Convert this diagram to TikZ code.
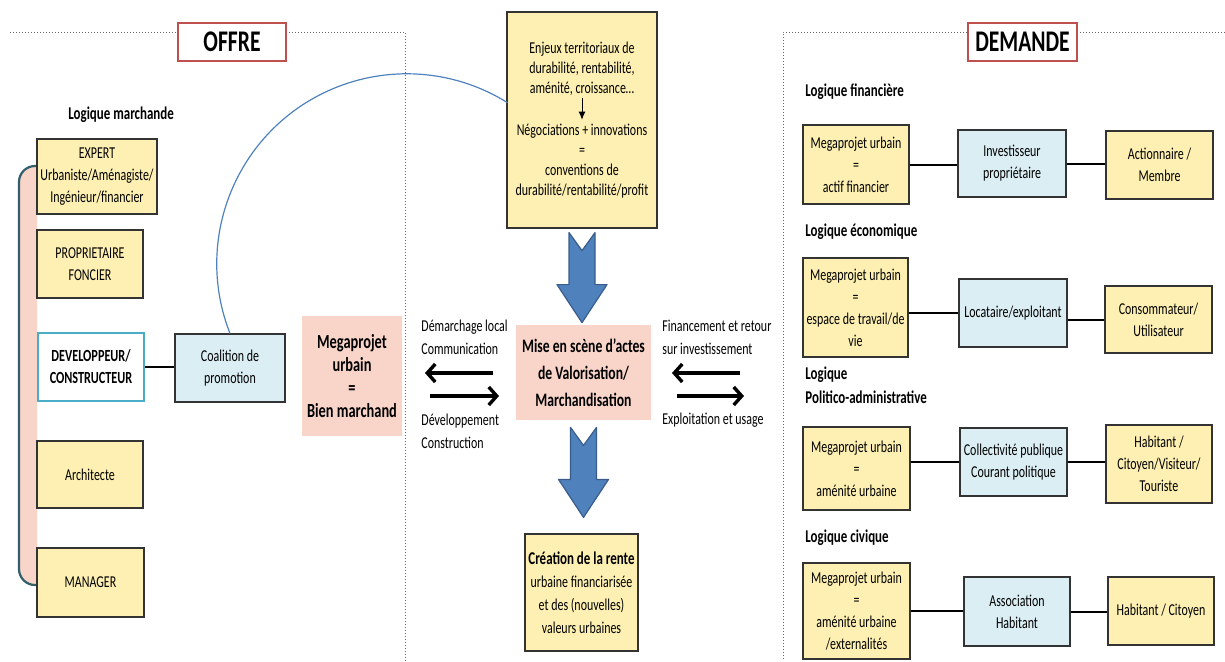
\documentclass[tikz,border=0pt]{standalone}
\usepackage{fontspec}
\setmainfont{Carlito}[FakeStretch=0.72]
\usetikzlibrary{arrows.meta,calc}
\definecolor{boxyellow}{RGB}{253,240,178}
\definecolor{boxblue}{RGB}{219,238,244}
\definecolor{boxpink}{RGB}{249,213,201}
\definecolor{titlered}{RGB}{192,80,77}
\definecolor{devteal}{RGB}{75,172,198}
\definecolor{arrowblue}{RGB}{79,129,189}
\definecolor{arrowedge}{RGB}{56,93,138}
\definecolor{bracketgray}{RGB}{49,96,106}
\newcommand{\smallfont}{\fontsize{8.3}{11}\selectfont}

\begin{document}
\begin{tikzpicture}[
    x=0.5pt, y=-0.5pt,
    box/.style={draw=black!80, line width=0.6pt, align=center, inner sep=1pt, font=\smallfont},
    ybox/.style={box, fill=boxyellow},
    bbox/.style={box, fill=boxblue},
    pbox/.style={fill=boxpink, align=center, inner sep=1pt},
    sz/.style 2 args={minimum width=#1*0.5pt, minimum height=#2*0.5pt},
    title/.style={draw=titlered, line width=1.3pt, fill=white, inner sep=0pt,
        font=\bfseries\fontsize{15}{18}\selectfont},
    logic/.style={anchor=west, align=left, inner sep=0pt, font=\bfseries\fontsize{9}{12}\selectfont},
    lbl/.style={anchor=west, align=left, inner sep=0pt, font=\fontsize{8.3}{11.5}\selectfont},
    link/.style={line width=1pt},
    flow/.style={-{Straight Barb[length=4pt,width=9pt]}, line width=1.7pt},
    frame/.style={black!60, densely dotted, line width=0.5pt},
    bigarrow/.style={fill=arrowblue, draw=arrowedge, line width=0.6pt, line join=round},
    downarr/.pic={\path[bigarrow] (-13,0) -- (0,18) -- (13,0) -- (13,52) -- (25,52)
        -- (0,90) -- (-25,52) -- (-13,52) -- cycle;}
]
    \useasboundingbox (0,0) rectangle (1225,661);

    % frames
    \draw[frame] (10,32) -- (405,32) -- (405,661);
    \draw[frame] (1225,32) -- (783,32) -- (783,661);
    \node[title, sz={108}{38}] (offre) at (232,42) {OFFRE};
    \node[title, sz={109}{38}] (demande) at (1022.5,42) {DEMANDE};

    % offre side
    \filldraw[fill=boxpink, draw=bracketgray, line width=1.1pt, rounded corners=8pt]
        (37,166) -| (19,585) -- (37,585);
    \node[logic] (lmarch) at (68,115) {Logique marchande};
    \node[ybox, sz={120}{75}] (expert) at (97,176.5) {EXPERT\\Urbaniste/Aménagiste/\\Ingénieur/financier};
    \node[ybox, sz={106}{68}] (prop) at (90,264) {PROPRIETAIRE\\FONCIER};
    \node[box, draw=devteal, line width=1.3pt, fill=white, sz={106}{68},
        font=\bfseries\fontsize{8.5}{11}\selectfont] (dev) at (91,367) {DEVELOPPEUR/\\CONSTRUCTEUR};
    \node[ybox, sz={106}{67}] (archi) at (90,474.5) {Architecte};
    \node[ybox, sz={107}{69}] (manager) at (90.5,582.5) {MANAGER};
    \node[bbox, sz={110}{68}] (coal) at (230,368) {Coalition de\\promotion};
    \node[pbox, sz={100}{120}, font=\bfseries\fontsize{10}{11.5}\selectfont] (bien) at (352,376)
        {Megaprojet\\urbain\\=\\Bien marchand};
    \draw[link] (dev.east) -- (dev.east -| coal.west);

    % centre
    \node[ybox, sz={150}{216}, font=\fontsize{8.3}{10}\selectfont] (enj) at (582,120)
        {Enjeux territoriaux de\\durabilité, rentabilité,\\aménité, croissance…\\
         \tikz[x=1pt,y=1pt,baseline=-9pt]\draw[-{Latex[length=4pt,width=3.5pt]}, line width=0.5pt] (0,0) -- (0,-11);\\
         Négociations + innovations\\=\\conventions  de\\durabilité/rentabilité/profit};
    \node[pbox, sz={135}{95}, font=\bfseries\fontsize{9.5}{13.5}\selectfont] (mise) at (583.5,372.5)
        {Mise en scène d'actes\\de Valorisation/\\Marchandisation};
    \node[ybox, sz={113}{117}, font=\fontsize{8.3}{11.5}\selectfont] (crea) at (581.5,592.5)
        {{\bfseries\fontsize{9}{11.5}\selectfont Création de la rente}\\urbaine financiarisée\\et des  (nouvelles)\\valeurs urbaines};
    \pic at ([yshift=-2pt]enj.south) {downarr};
    \pic at ([yshift=-3.5pt]mise.south) {downarr};
    \draw[arrowblue, line width=0.6pt] (coal.north) arc[start angle=201.5, end angle=58, radius=95pt];

    \node[lbl] (demarch) at (421,337.5) {Démarchage local\\Communication};
    \node[lbl] (devcons) at (421,431.5) {Développement\\Construction};
    \node[lbl] (financ) at (662,337.5) {Financement et retour\\sur investissement};
    \node[lbl] (exploit) at (662,420) {Exploitation et usage};
    \coordinate (lfa) at (493,373);
    \coordinate (lfb) at (425,373);
    \coordinate (lra) at (430,396);
    \coordinate (lrb) at (499,396);
    \coordinate (rfa) at (740,373);
    \coordinate (rfb) at (672,373);
    \coordinate (rra) at (677,396);
    \coordinate (rrb) at (744,396);
    \draw[flow] (lfa) -- (lfb);
    \draw[flow] (lra) -- (lrb);
    \draw[flow] (rfa) -- (rfb);
    \draw[flow] (rra) -- (rrb);

    % demande side
    \node[logic] (lfin) at (805,92) {Logique financière};
    \node[ybox, sz={106}{79}] (r1a) at (856,164.5) {Megaprojet urbain\\=\\actif financier};
    \node[bbox, sz={108}{67}] (r1b) at (1012,163.5) {Investisseur\\propriétaire};
    \node[ybox, sz={107}{68}] (r1c) at (1159.5,165) {Actionnaire /\\Membre};
    \draw[link] (r1a.east) -- (r1a.east -| r1b.west);
    \draw[link] (r1b.east) -- (r1b.east -| r1c.west);

    \node[logic] (leco) at (805,232) {Logique économique};
    \node[ybox, sz={105}{99}] (r2a) at (855.5,307.5) {Megaprojet urbain\\=\\espace de travail/de\\vie};
    \node[bbox, sz={108}{68}] (r2b) at (1013,313) {Locataire/exploitant};
    \node[ybox, sz={107}{67}] (r2c) at (1158.5,319.5) {Consommateur/\\Utilisateur};
    \draw[link] (r2b.west -| r2a.east) -- (r2b.west);
    \draw[link] (r2c.west -| r2b.east) -- (r2c.west);

    \node[logic] (lpol) at (805,385) {Logique\\Politico-administrative};
    \node[ybox, sz={107}{83}] (r3a) at (856.5,468.5) {Megaprojet urbain\\=\\aménité urbaine};
    \node[bbox, sz={107}{68}] (r3b) at (1013.5,462) {Collectivité publique\\Courant politique};
    \node[ybox, sz={106}{78}] (r3c) at (1159,464) {Habitant /\\Citoyen/Visiteur/\\Touriste};
    \draw[link] (r3b.west -| r3a.east) -- (r3b.west);
    \draw[link] (r3b.east) -- (r3b.east -| r3c.west);

    \node[logic] (lciv) at (805,538) {Logique civique};
    \node[ybox, sz={107}{96}] (r4a) at (856.5,611) {Megaprojet urbain\\=\\aménité urbaine\\/externalités};
    \node[bbox, sz={106}{69}] (r4b) at (1017,611.5) {Association\\Habitant};
    \node[ybox, sz={106}{68}] (r4c) at (1161,611) {Habitant / Citoyen};
    \draw[link] (r4a.east) -- (r4a.east -| r4b.west);
    \draw[link] (r4b.east) -- (r4b.east -| r4c.west);
\end{tikzpicture}
\end{document}
